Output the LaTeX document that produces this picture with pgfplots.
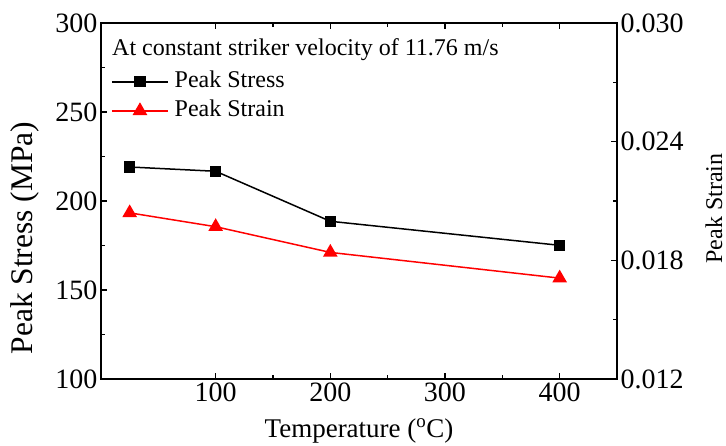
\documentclass[border=0pt]{standalone}
\usepackage{fontspec}
\setmainfont{Liberation Serif}
\usepackage{pgfplots}
\pgfplotsset{compat=1.18}
\begin{document}
\begin{tikzpicture}
\useasboundingbox (-101pt,-67pt) rectangle (625pt,379pt);
\pgfplotsset{
  common/.style={
    scale only axis, width=516pt, height=356pt,
    xmin=0, xmax=450,
    tick align=inside, major tick length=6pt, minor tick length=4pt,
    axis line style={line width=1.2pt},
    every tick/.style={black, line width=1.2pt},
    tick label style={font=\fontsize{28}{28}\selectfont},
    /pgf/number format/assume math mode=true,
  }
}
\begin{axis}[common,
  ymin=100, ymax=300,
  ytick={100,150,200,250,300}, minor y tick num=1,
  xtick={100,200,300,400}, minor x tick num=1,
  ytick pos=left,
  xlabel={\fontsize{27}{27}\selectfont Temperature (\textsuperscript{o}C)},
  ylabel={\fontsize{31.5}{31.5}\selectfont Peak Stress (MPa)},
  xlabel style={at={(axis description cs:0.5,-0.163)}, anchor=base, inner sep=0pt},
  ylabel style={at={(axis description cs:-0.1318,0.396)}, anchor=base, inner sep=0pt},
  legend style={draw=none, fill=none, inner sep=0pt,
    at={(axis description cs:0.0194,0.865)}, anchor=north west,
    font=\fontsize{24}{24}\selectfont,
    nodes={inner sep=0pt, text height=16pt, text depth=5pt},
    row sep=8pt, column sep=6pt},
  legend cell align=left,
  legend image code/.code={\draw[mark repeat=2,mark phase=2,#1] plot coordinates {(0pt,0pt) (28pt,0pt) (56pt,0pt)};},
]
\addplot[black, line width=1.5pt, mark=square*, mark size=4.8pt, mark options={solid}]
  coordinates {(25,219.1) (100,216.7) (200,188.6) (400,175.1)};
\addlegendentry{Peak Stress}
\addlegendimage{red, line width=1.5pt, mark=triangle*, mark size=7pt, mark options={solid}}
\addlegendentry{Peak Strain}
\node[anchor=base west, font=\fontsize{24}{24}\selectfont, inner sep=0pt] at (axis description cs:0.0213,0.910) {At constant striker velocity of 11.76 m/s};
\end{axis}
\begin{axis}[common,
  ymin=0.012, ymax=0.030,
  ytick={0.012,0.018,0.024,0.030}, minor y tick num=1,
  axis y line*=right, axis x line=none,
  scaled y ticks=false,
  yticklabel style={/pgf/number format/.cd, fixed, fixed zerofill, precision=3},
  ylabel={\fontsize{24}{24}\selectfont Peak Strain},
  ylabel style={at={(axis description cs:1.2035,0.479)}, anchor=base, inner sep=0pt},
]
\addplot[red, line width=1.5pt, mark=triangle*, mark size=7pt, mark options={solid}]
  coordinates {(25,0.0204) (100,0.0197) (200,0.0184) (400,0.0171)};
\end{axis}
\end{tikzpicture}
\end{document}
